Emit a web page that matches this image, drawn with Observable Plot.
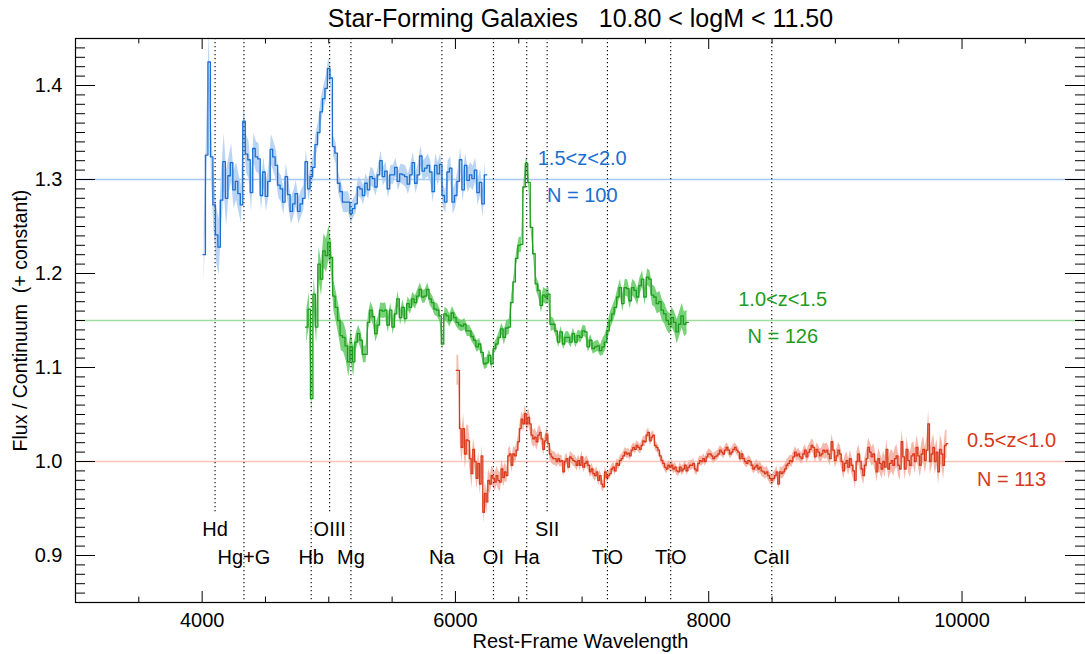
<!DOCTYPE html>
<html><head><meta charset="utf-8">
<script src="https://cdn.jsdelivr.net/npm/d3@7"></script>
<script src="https://cdn.jsdelivr.net/npm/@observablehq/plot@0.6"></script>
<style>
html,body{margin:0;padding:0;background:#fff;overflow:hidden}
#chart svg{display:block}
</style></head><body><div id="chart"></div>
<script>
// ---------------- DATA ----------------
const titleText = "Star-Forming Galaxies   10.80 < logM < 11.50";
const xLabelText = "Rest-Frame Wavelength";
const yLabelText = "Flux / Continuum  (+ constant)";

const xMajorTicks = [4000, 6000, 8000, 10000];
const yMajorTicks = [0.9, 1.0, 1.1, 1.2, 1.3, 1.4];

// spectral features (dotted lines)
const featureNames  = ["Hd","Hg+G","Hb","OIII","Mg","Na","OI","Ha","SII","TiO","TiO","CaII"];
const featureLambda = [4102, 4330, 4861, 5007, 5175, 5893, 6300, 6563, 6724, 7200, 7700, 8498];
const featureRow    = [0, 1, 1, 0, 1, 1, 1, 1, 0, 1, 1, 1];

// series: reference level, labels
const seriesNames  = ["1.5<z<2.0", "1.0<z<1.5", "0.5<z<1.0"];
const seriesCounts = ["N = 100", "N = 126", "N = 113"];
const seriesLevels = [1.30, 1.15, 1.00];

// 1.5<z<2.0 (blue): first bin start, bin width, binned flux, error per 10 bins
const blueStart = 4006.3, blueStep = 19.66;
const blueFlux = [1.22,
 1.326,1.425,1.324,1.273,1.241,1.228,1.278,1.319,1.280,1.304,
 1.318,1.289,1.298,1.285,1.273,1.362,1.327,1.321,1.286,1.333,
 1.324,1.322,1.283,1.308,1.282,1.298,1.332,1.324,1.315,1.294,
 1.290,1.276,1.303,1.284,1.266,1.274,1.285,1.266,1.274,1.280,
 1.319,1.290,1.303,1.313,1.337,1.350,1.372,1.386,1.397,1.418,
 1.408,1.335,1.328,1.296,1.287,1.276,1.276,1.276,1.264,1.269,
 1.274,1.292,1.290,1.283,1.296,1.289,1.303,1.301,1.292,1.305,
 1.320,1.303,1.309,1.290,1.305,1.305,1.313,1.298,1.306,1.305,
 1.303,1.295,1.305,1.318,1.296,1.305,1.325,1.309,1.312,1.315,
 1.308,1.287,1.315,1.306,1.316,1.283,1.276,1.308,1.312,1.276,
 1.283,1.298,1.321,1.289,1.315,1.299,1.305,1.301,1.310,1.286,
 1.297,1.274,1.305];
const blueErr = [0.03,0.02,0.016,0.014,0.013,0.011,0.010,0.010,0.011,0.012,0.013,0.014];

// 1.0<z<1.5 (green)
const greenStart = 4816, greenStep = 19.5;
const greenFlux = [
 1.143,1.162,1.067,1.178,1.143,1.210,1.194,1.224,1.219,1.233,
 1.217,1.176,1.164,1.150,1.134,1.132,1.123,1.106,1.122,1.106,
 1.127,1.136,1.129,1.114,1.114,1.148,1.161,1.154,1.136,1.145,
 1.161,1.160,1.161,1.145,1.161,1.143,1.157,1.173,1.153,1.164,
 1.152,1.168,1.164,1.173,1.169,1.176,1.183,1.175,1.176,1.183,
 1.173,1.169,1.162,1.161,1.155,1.125,1.157,1.155,1.150,1.158,
 1.153,1.148,1.145,1.144,1.146,1.139,1.139,1.133,1.129,1.122,
 1.125,1.116,1.104,1.105,1.113,1.104,1.120,1.125,1.132,1.141,
 1.132,1.142,1.143,1.169,1.191,1.216,1.230,1.231,1.292,1.317,
 1.297,1.249,1.221,1.189,1.182,1.166,1.177,1.175,1.178,1.146,
 1.146,1.139,1.127,1.138,1.125,1.132,1.132,1.127,1.136,1.127,
 1.134,1.132,1.139,1.138,1.122,1.129,1.120,1.122,1.123,1.118,
 1.122,1.127,1.139,1.150,1.157,1.164,1.175,1.185,1.168,1.185,
 1.184,1.171,1.185,1.182,1.175,1.187,1.194,1.175,1.196,1.194,
 1.177,1.175,1.168,1.170,1.161,1.157,1.150,1.146,1.153,1.148,
 1.138,1.146,1.155,1.146,1.148];
const greenErr = [0.018,0.016,0.009,0.008,0.007,0.007,0.006,0.006,0.008,0.008,0.006,0.006,0.009,0.009,0.011,0.013];

// 0.5<z<1.0 (red)
const redStart = 6005.6, redStep = 13.16;
const redFlux = [
 1.097,1.097,1.035,1.015,1.035,1.008,1.023,1.022,1.003,0.987,
 1.013,1.000,0.982,0.998,0.976,1.006,0.946,0.966,0.957,0.980,
 0.976,0.985,0.982,0.978,0.985,0.980,0.978,0.992,0.983,0.989,
 0.985,1.006,1.008,0.996,1.008,1.006,1.012,1.021,1.035,1.045,
 1.040,1.051,1.040,1.047,1.040,1.028,1.024,1.026,1.021,1.028,
 1.031,1.024,1.013,1.022,1.029,1.019,1.008,1.005,1.003,1.003,
 1.000,1.003,1.000,1.001,0.989,1.000,1.003,0.994,1.005,1.003,
 1.001,1.000,0.996,1.001,0.996,1.005,0.994,0.998,1.000,0.996,
 0.989,0.992,0.987,0.985,0.989,0.980,0.985,0.976,0.973,0.989,
 0.983,0.985,0.987,0.992,0.994,0.990,0.998,0.996,1.001,1.003,
 1.006,1.010,1.008,1.009,1.006,1.012,1.015,1.013,1.017,1.015,
 1.013,1.017,1.022,1.021,1.028,1.031,1.022,1.026,1.028,1.017,
 1.015,1.012,1.006,1.001,0.998,0.994,0.992,0.996,0.994,0.996,
 0.992,0.994,0.990,0.989,0.994,0.990,0.992,0.996,0.990,0.994,
 0.996,0.996,0.998,0.992,0.990,0.998,1.001,
 1.000,1.003,1.000,1.005,1.008,1.008,1.006,1.003,1.005,1.006,
 1.008,1.012,1.010,1.008,1.012,1.015,1.012,1.008,1.010,1.013,
 1.015,1.012,1.010,1.003,1.008,1.003,1.000,0.998,1.001,1.000,
 0.996,0.992,0.994,0.996,0.992,0.994,0.990,0.989,0.987,0.989,
 0.985,0.982,0.980,0.982,0.985,0.989,0.976,0.989,0.987,0.989,
 0.992,0.996,0.998,1.001,1.000,1.005,1.010,1.006,1.008,1.005,
 1.003,1.008,1.012,1.005,1.010,1.013,1.017,1.015,1.005,1.013,
 1.010,1.006,1.008,1.012,1.010,1.012,1.008,1.003,1.021,1.012,
 1.001,1.006,1.012,1.008,1.000,0.990,0.998,1.001,0.994,1.003,
 0.996,0.990,0.980,1.000,1.008,1.000,0.992,0.985,0.996,1.003,
 1.015,1.010,1.005,1.008,1.000,0.989,1.003,0.998,0.992,1.000,
 0.994,1.013,0.992,0.998,1.001,0.996,1.003,1.006,0.996,0.992,
 1.021,1.005,0.992,1.013,1.001,0.996,1.006,1.008,1.000,1.015,
 1.006,0.996,1.008,1.013,1.001,1.012,1.040,1.000,1.008,1.015,
 1.000,1.010,0.989,1.013,1.008,0.996,1.017,1.019];
const redErr = [0.016,0.012,0.010,0.008,0.009,0.007,0.006,0.006,0.006,0.005,
 0.005,0.005,0.005,0.005,0.005,0.005,0.005,0.005,0.006,0.006,
 0.006,0.007,0.008,0.009,0.010,0.011,0.012,0.013,0.014,0.015];

// ---------------- STYLE / LAYOUT ----------------
const W = 1085, H = 654, mL = 75, mR = 0, mT = 38, mB = 52;
const fw = W - mL - mR, fh = H - mT - mB;
const colors = {
  line: ["#1b6fd2", "#1e9c1e", "#d8391a"],
  band: ["#aecdf1", "#62c962", "#f2ad9d"],
  ref:  ["#a6cbf2", "#9fdc9f", "#f5c3b8"]
};
const font = "'Liberation Sans', Arial, Helvetica, sans-serif";
const rowY = [0.9277, 0.8973];            // label rows (data units)
const rowBottom = [0.945, 0.85];          // dotted line lower ends
const labelPos = [ // [x, yName, yCount]
  [7001, 1.3223, 1.283],
  [8584, 1.1723, 1.133],
  [10391, 1.0223, 0.981]
];

function build(start, step, flux, err) {
  const line = flux.map((v, i) => ({x: start + i * step, v}));
  line.push({x: start + flux.length * step, v: flux[flux.length - 1]});
  const band = flux.map((v, i) => {
    const e = err[Math.min(err.length - 1, Math.floor(i / 10))];
    return {x: start + (i + 0.5) * step, lo: v - e, hi: v + e};
  });
  return {line, band};
}
const series = [
  build(blueStart, blueStep, blueFlux, blueErr),
  build(greenStart, greenStep, greenFlux, greenErr),
  build(redStart, redStep, redFlux, redErr)
];

const features = featureNames.map((n, i) => ({
  name: n, lam: featureLambda[i], row: featureRow[i]
}));

const xMinor = d3.range(3500, 11000, 500).filter(v => !xMajorTicks.includes(v));
const yMinor = d3.range(86, 145).map(v => v / 100).filter(v => Math.round(v * 100) % 10 !== 0);

const marks = [];
// reference levels
seriesLevels.forEach((lv, i) => marks.push(Plot.ruleY([lv], {stroke: colors.ref[i], strokeWidth: 1.3})));
// error bands
series.forEach((s, i) => marks.push(Plot.areaY(s.band, {x: "x", y1: "lo", y2: "hi", fill: colors.band[i], fillOpacity: 0.85, curve: "linear"})));
// dotted feature lines
marks.push(Plot.ruleX(features, {x: "lam", y1: 1.45, y2: d => rowBottom[d.row], stroke: "black", strokeWidth: 1.1, strokeDasharray: "1.2,2.8"}));
// spectra
series.forEach((s, i) => marks.push(Plot.line(s.line, {x: "x", y: "v", curve: "step-after", stroke: colors.line[i], strokeWidth: 1.3})));
// feature labels
marks.push(Plot.text(features, {x: "lam", y: d => rowY[d.row], text: "name", fontSize: 20, fill: "black"}));
// series labels
seriesNames.forEach((n, i) => {
  marks.push(Plot.text([n], {x: labelPos[i][0], y: labelPos[i][1], text: d => d, fill: colors.line[i], fontSize: 20}));
  marks.push(Plot.text([seriesCounts[i]], {x: labelPos[i][0], y: labelPos[i][2], text: d => d, fill: colors.line[i], fontSize: 20}));
});
// axes labels (tick labels)
marks.push(Plot.axisX({ticks: xMajorTicks, tickSize: 0, tickPadding: 10, fontSize: 20, label: null, tickFormat: d => String(d)}));
marks.push(Plot.axisY({ticks: yMajorTicks, tickSize: 0, tickPadding: 13, fontSize: 20, label: null, tickFormat: d3.format(".1f")}));
// inward ticks
marks.push(Plot.tickX(xMajorTicks, {x: d => d, insetTop: fh - 11, stroke: "black"}));
marks.push(Plot.tickX(xMajorTicks, {x: d => d, insetBottom: fh - 11, stroke: "black"}));
marks.push(Plot.tickX(xMinor, {x: d => d, insetTop: fh - 5.5, stroke: "black"}));
marks.push(Plot.tickX(xMinor, {x: d => d, insetBottom: fh - 5.5, stroke: "black"}));
marks.push(Plot.tickY(yMajorTicks, {y: d => d, insetRight: fw - 20, stroke: "black"}));
marks.push(Plot.tickY(yMinor, {y: d => d, insetRight: fw - 10, stroke: "black"}));
marks.push(Plot.tickY(yMajorTicks, {y: d => d, insetLeft: fw - 20, stroke: "black"}));
marks.push(Plot.tickY(yMinor, {y: d => d, insetLeft: fw - 10, stroke: "black"}));
marks.push(Plot.frame({stroke: "black", strokeWidth: 1.2}));
// titles
marks.push(Plot.text([titleText], {frameAnchor: "top", dy: -20, lineAnchor: "middle", textAnchor: "middle", text: d => d, fontSize: 25, fill: "black"}));
marks.push(Plot.text([xLabelText], {frameAnchor: "bottom", dy: 39, lineAnchor: "middle", textAnchor: "middle", text: d => d, fontSize: 20, fill: "black"}));
marks.push(Plot.text([yLabelText], {frameAnchor: "left", dx: -55, rotate: -90, lineAnchor: "middle", textAnchor: "middle", text: d => d, fontSize: 19.5, fill: "black"}));

const chart = Plot.plot({
  width: W, height: H,
  marginLeft: mL, marginRight: mR, marginTop: mT, marginBottom: mB,
  style: {fontFamily: font, background: "white", color: "black", overflow: "visible"},
  x: {domain: [3000, 10975]},
  y: {domain: [0.85, 1.45]},
  marks
});
document.getElementById("chart").appendChild(chart);
</script>
</body></html>
